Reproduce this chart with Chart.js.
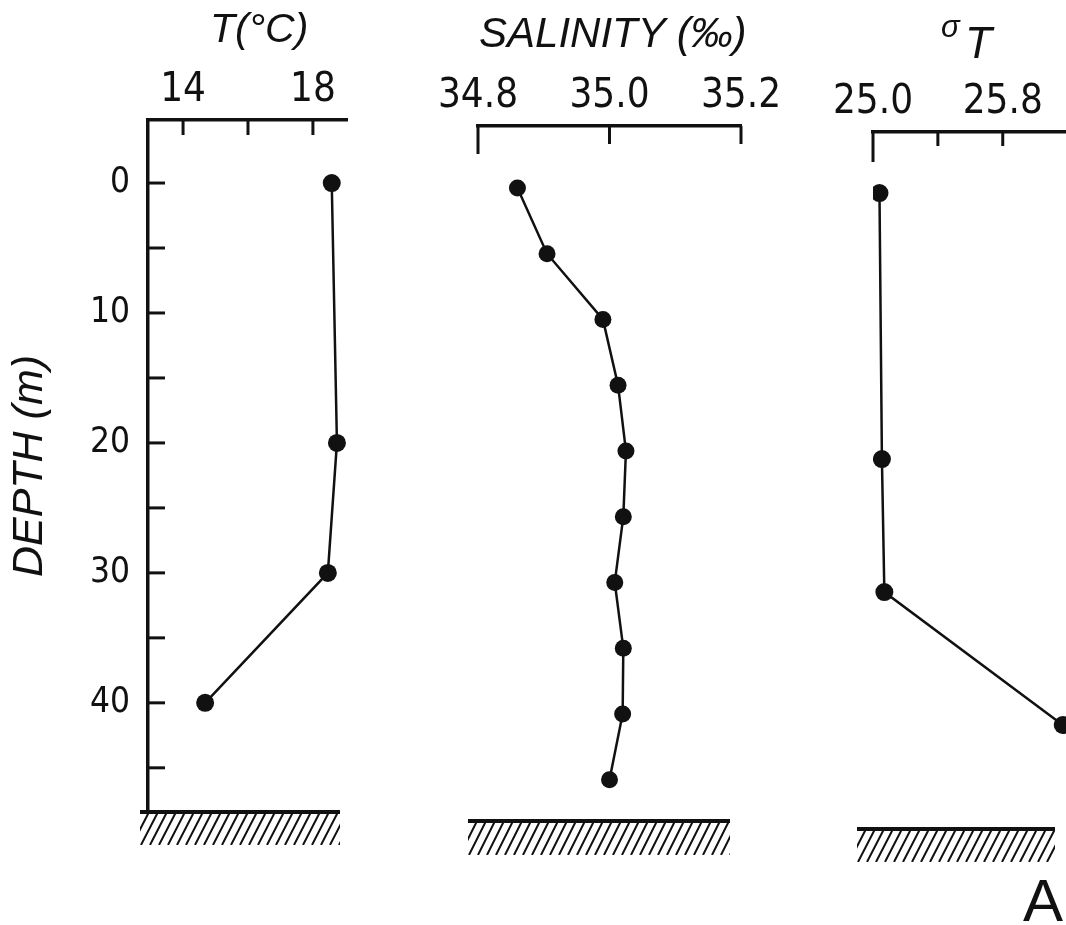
<!DOCTYPE html>
<html lang="en">
<head>
<meta charset="UTF-8">
<title>Temperature, salinity and sigma-t profiles</title>
<script src="https://cdn.jsdelivr.net/npm/chart.js@4.4.3/dist/chart.umd.min.js"></script>
<style>
  html, body { margin: 0; padding: 0; background: #fff; }
  .page { position: relative; width: 1066px; height: 925px; overflow: hidden; background: #fff; }
  .page canvas { position: absolute; left: 0; top: 0; }
  .ttl { position: absolute; color: #111; font-family: 'Liberation Sans', Arial, sans-serif; font-style: italic; white-space: nowrap; }
</style>
</head>
<body>
<div class="page">
  <canvas id="tempChart" width="1066" height="925"></canvas>
  <canvas id="salChart" width="1066" height="925"></canvas>
  <canvas id="sigmaChart" width="1066" height="925"></canvas>

  <div class="ttl" style="left:210px; top:8px; font-size:41px; line-height:41px;">T(°C)</div>
  <div class="ttl" style="left:479px; top:12px; font-size:42px; line-height:42px;">SALINITY (‰)</div>
  <div class="ttl" style="left:941px; top:11px; font-size:31px; line-height:31px;">σ</div>
  <div class="ttl" style="left:965px; top:21px; font-size:44px; line-height:44px;">T</div>
  <div class="ttl" style="left:1023px; top:871px; font-size:60px; line-height:60px; font-style:normal;">A</div>
</div>

<script>
// depth axis (m)
const depthTicks = [0, 5, 10, 15, 20, 25, 30, 35, 40, 45];
const depthLabels = ['0', '', '10', '', '20', '', '30', '', '40', ''];

// temperature profile
const tempDepth = [0, 20, 30, 40];
const tempValue = [18.58, 18.74, 18.46, 14.68];
const tempTicks = [14, 16, 18];
const tempLabels = ['14', '', '18'];

// salinity profile
const salDepth = [0, 5, 10, 15, 20, 25, 30, 35, 40, 45];
const salValue = [34.86, 34.905, 34.99, 35.013, 35.025, 35.021, 35.008, 35.021, 35.02, 35.0];
const salTicks = [34.8, 35.0, 35.2];
const salLabels = ['34.8', '35.0', '35.2'];

// sigma-t profile
const sigmaDepth = [0, 20, 30, 40];
const sigmaValue = [25.04, 25.055, 25.07, 26.17];
const sigmaTicks = [25.0, 25.4, 25.8];
const sigmaLabels = ['25.0', '', '25.8'];

const INK = '#111';
const NARROW = "'Liberation Sans Narrow', 'DejaVu Sans Condensed', sans-serif";

// inward tick marks and the hatched sea floor under each profile
const profileDecor = {
  id: 'profileDecor',
  afterDraw(chart, args, o) {
    const { ctx, chartArea: a, scales: { x, y } } = chart;
    ctx.save();
    ctx.strokeStyle = INK;
    ctx.lineWidth = 3;
    o.xTicks.forEach((v, i) => {
      const px = x.getPixelForValue(v);
      ctx.beginPath();
      ctx.moveTo(px, a.top);
      ctx.lineTo(px, a.top + o.xTickLen[i]);
      ctx.stroke();
    });
    if (o.yTicks) {
      o.yTicks.forEach(v => {
        const py = y.getPixelForValue(v);
        ctx.beginPath();
        ctx.moveTo(a.left, py);
        ctx.lineTo(a.left + o.yTickLen, py);
        ctx.stroke();
      });
    }

    const x0 = a.left - o.bedLeft, x1 = a.right - o.bedRight, yb = a.bottom;
    const h = o.hatchH, dx = 17, gap = 9;
    ctx.save();
    ctx.beginPath();
    ctx.rect(x0, yb, x1 - x0, h);
    ctx.clip();
    ctx.lineWidth = 2;
    ctx.beginPath();
    for (let hx = x0 - dx; hx < x1 + dx; hx += gap) {
      ctx.moveTo(hx, yb + h);
      ctx.lineTo(hx + dx, yb);
    }
    ctx.stroke();
    ctx.restore();

    ctx.lineWidth = 4;
    ctx.beginPath();
    ctx.moveTo(x0, yb);
    ctx.lineTo(x1, yb);
    ctx.stroke();
    ctx.restore();
  }
};

function profileChart(id, p) {
  const yScale = {
    type: 'linear',
    reverse: true,
    min: p.yMin,
    max: p.yMax,
    display: p.showDepth,
    afterBuildTicks: s => { s.ticks = depthTicks.map(v => ({ value: v })); },
    ticks: {
      callback: (v, i) => depthLabels[i],
      font: { family: NARROW, size: 35 },
      color: INK,
      padding: 18,
      autoSkip: false
    },
    grid: { drawOnChartArea: false, drawTicks: false },
    border: { display: true, color: INK, width: 3.5 },
    title: {
      display: true,
      text: 'DEPTH (m)',
      color: INK,
      font: { family: "'Liberation Sans', Arial, sans-serif", style: 'italic', size: 43 },
      padding: { top: 4, bottom: 0 }
    }
  };
  if (p.showDepth) yScale.afterFit = s => { s.width = p.left; };

  return new Chart(document.getElementById(id), {
    type: 'scatter',
    data: {
      datasets: [{
        data: p.depth.map((d, i) => ({ x: p.values[i], y: d })),
        showLine: true,
        borderColor: INK,
        borderWidth: 2.5,
        pointRadius: p.radius,
        pointBackgroundColor: INK,
        pointBorderWidth: 0
      }]
    },
    plugins: [profileDecor],
    options: {
      responsive: false,
      animation: false,
      events: [],
      layout: { padding: p.padding, autoPadding: false },
      plugins: {
        legend: { display: false },
        tooltip: { enabled: false },
        profileDecor: p.decor
      },
      scales: {
        x: {
          type: 'linear',
          position: 'top',
          min: p.xMin,
          max: p.xMax,
          afterBuildTicks: s => { s.ticks = p.xTicks.map(v => ({ value: v })); },
          afterFit: s => { s.height = p.top; s.paddingLeft = 0; s.paddingRight = 0; },
          ticks: {
            callback: (v, i) => p.xLabels[i],
            font: { family: NARROW, size: 40 },
            color: INK,
            padding: 5,
            maxRotation: 0,
            autoSkip: false
          },
          grid: { drawOnChartArea: false, drawTicks: false },
          border: { display: true, color: INK, width: 3.5 }
        },
        y: yScale
      }
    }
  });
}

profileChart('tempChart', {
  depth: tempDepth, values: tempValue, radius: 9,
  xMin: 12.92, xMax: 19.05, xTicks: tempTicks, xLabels: tempLabels,
  yMin: -4.85, yMax: 48.4, top: 120, left: 148, showDepth: true,
  padding: { left: 0, right: 719, top: 0, bottom: 113 },
  decor: { xTicks: tempTicks, xTickLen: [15, 15, 15], yTicks: depthTicks, yTickLen: 17, bedLeft: 8, bedRight: 7, hatchH: 33 }
});

profileChart('salChart', {
  depth: salDepth, values: salValue, radius: 8.5,
  xMin: 34.8, xMax: 35.2, xTicks: salTicks, xLabels: salLabels,
  yMin: -4.71, yMax: 48.14, top: 126, showDepth: false,
  padding: { left: 478, right: 325, top: 0, bottom: 104 },
  decor: { xTicks: salTicks, xTickLen: [28, 18, 18], bedLeft: 10, bedRight: 11, hatchH: 34 }
});

profileChart('sigmaChart', {
  depth: sigmaDepth, values: sigmaValue, radius: 9,
  xMin: 25.0, xMax: 26.19, xTicks: sigmaTicks, xLabels: sigmaLabels,
  yMin: -4.59, yMax: 47.82, top: 132, showDepth: false,
  padding: { left: 873, right: 0, top: 0, bottom: 96 },
  decor: { xTicks: sigmaTicks, xTickLen: [30, 14, 14], bedLeft: 16, bedRight: 11, hatchH: 33 }
});
</script>
</body>
</html>
